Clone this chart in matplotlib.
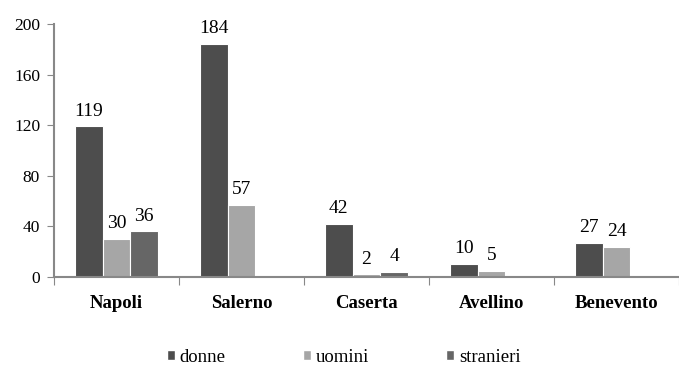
import numpy as np
import matplotlib.pyplot as plt
from matplotlib.patches import Patch

plt.rcParams['font.family'] = ['Liberation Serif', 'DejaVu Serif']

province = ["Napoli", "Salerno", "Caserta", "Avellino", "Benevento"]
donne = [119, 184, 42, 10, 27]
uomini = [30, 57, 2, 5, 24]
stranieri = [36, np.nan, 4, np.nan, np.nan]

series = [("donne", donne, "#4d4d4d"),
          ("uomini", uomini, "#a6a6a6"),
          ("stranieri", stranieri, "#666666")]

fig = plt.figure(figsize=(6.79, 3.67), dpi=100)
ax = fig.add_axes([54 / 679, 90 / 367, 1 - 54 / 679, 253 / 367])

x = np.arange(len(province))
w = 0.222
for i, (name, vals, color) in enumerate(series):
    pos = x + (i - 1) * w
    vals = np.array(vals, dtype=float)
    ax.bar(pos, vals, width=w, color=color, edgecolor="white", linewidth=0.8)
    for p, v in zip(pos, vals):
        if not np.isnan(v):
            ax.annotate(f"{v:.0f}", (p, v), xytext=(0, 5), textcoords="offset points",
                        ha="center", va="bottom", fontsize=14)

ax.set_ylim(0, 200)
ax.set_yticks(range(0, 201, 40))
ax.set_xlim(-0.5, 4.43)
ax.set_xticks(np.arange(-0.5, 5, 1))
ax.set_xticklabels([])
ax.set_xticks(x, minor=True)
ax.set_xticklabels(province, minor=True, fontweight="bold", fontsize=13.5)
ax.tick_params(axis="x", which="minor", length=0, pad=13)
ax.tick_params(axis="x", which="major", length=6, color="#888888", direction="out")
ax.tick_params(axis="y", length=5, color="#888888", labelsize=12.5, pad=5)

for s in ["top", "right"]:
    ax.spines[s].set_visible(False)
for s in ["left", "bottom"]:
    ax.spines[s].set_color("#888888")
    ax.spines[s].set_linewidth(1.5)

handles = [Patch(facecolor=c, edgecolor="white", label=n) for n, _, c in series]
fig.legend(handles=handles, loc="center", bbox_to_anchor=(0.506, 0.027), ncol=3,
           frameon=False, prop={"family": "Liberation Serif", "size": 13.5},
           handlelength=0.45, handleheight=0.45,
           handletextpad=0.25, columnspacing=4.1)

fig.savefig("out.png", dpi=100)
